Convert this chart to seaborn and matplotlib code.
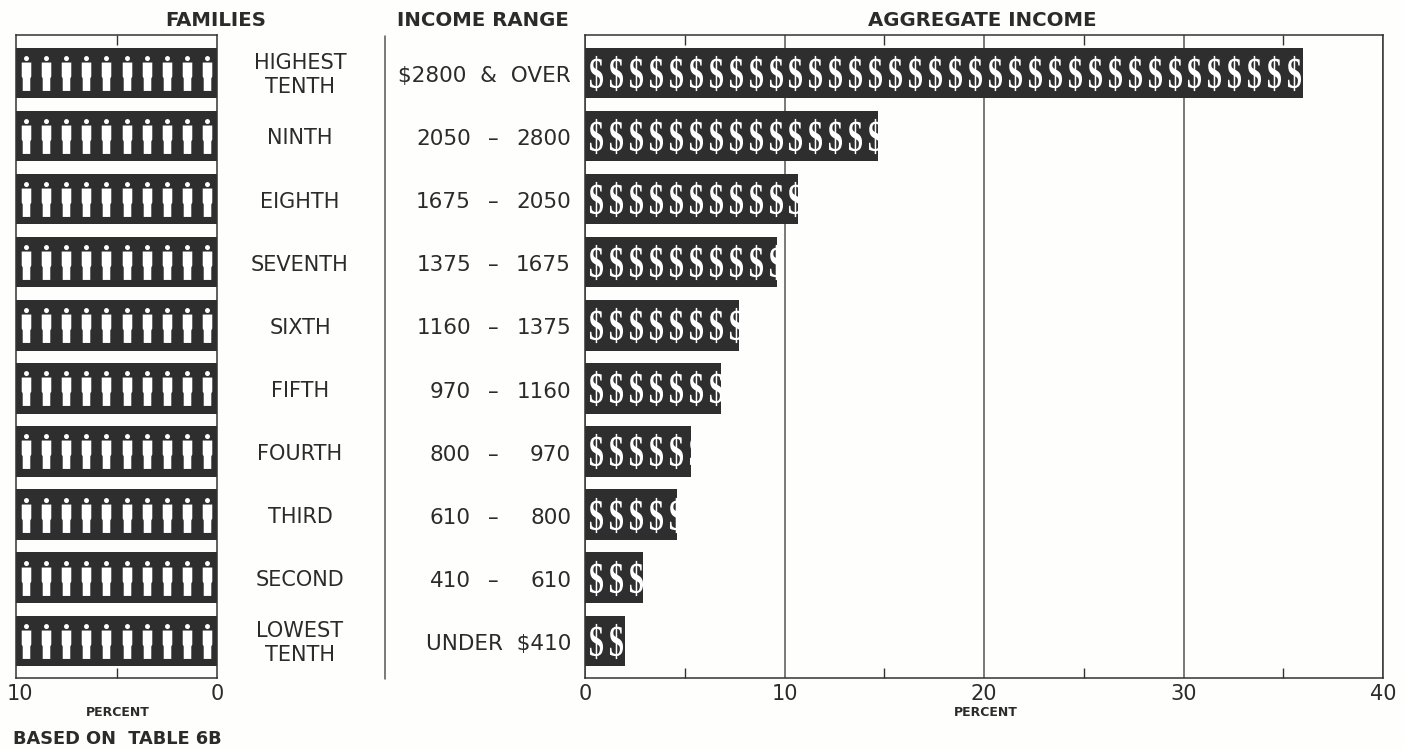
import numpy as np
import pandas as pd
import matplotlib
matplotlib.use("Agg")
import matplotlib.pyplot as plt
from matplotlib.font_manager import FontProperties
from matplotlib.path import Path
from matplotlib.textpath import TextPath
from matplotlib.transforms import Affine2D, ScaledTranslation, blended_transform_factory
import seaborn as sns

# Income tenths of families, highest to lowest
tenth_labels = ["HIGHEST\nTENTH", "NINTH", "EIGHTH", "SEVENTH", "SIXTH",
                "FIFTH", "FOURTH", "THIRD", "SECOND", "LOWEST\nTENTH"]
range_low = ["", "2050", "1675", "1375", "1160", "970", "800", "610", "410", ""]
range_high = ["", "2800", "2050", "1675", "1375", "1160", "970", "800", "610", ""]
range_whole = ["$2800  &  OVER", "", "", "", "", "", "", "", "", "UNDER  $410"]
family_share = [10, 10, 10, 10, 10, 10, 10, 10, 10, 10]
income_share = [36.0, 14.7, 10.7, 9.6, 7.7, 6.8, 5.3, 4.6, 2.9, 2.0]

INK = "#2e2e2e"
TEXT = "#2b2b2b"
PAPER = "#fefefc"
W, H = 1404, 749

sns.set_theme(style="white")
plt.rcParams["font.family"] = ["DejaVu Sans"]
plt.rcParams["axes.edgecolor"] = "#333333"
plt.rcParams["axes.linewidth"] = 1.1

fig = plt.figure(figsize=(W / 100, H / 100), dpi=100, facecolor=PAPER)


def panel(x0, x1, y0=35, y1=678):
    return fig.add_axes([x0 / W, 1 - y1 / H, (x1 - x0) / W, (y1 - y0) / H], facecolor=PAPER)


def dollar_marker():
    # Tall, narrow dollar sign: about 13 units wide for 35 high
    glyph = TextPath((0, 0), "$", size=1,
                     prop=FontProperties(family="Liberation Serif", weight="bold"))
    box = glyph.get_extents()
    centred = Affine2D().translate(-(box.x0 + box.x1) / 2, -(box.y0 + box.y1) / 2)
    squeeze = (13 / 35) * box.height / box.width
    return glyph.transformed(centred + Affine2D().scale(squeeze, 1.0))


def person_marker():
    # Figure drawn in a 35-unit-high box centred on the origin
    body = [(-4.8, 11), (4.8, 11), (4.8, -3), (3.8, -5), (3.8, -17.5),
            (-3.8, -17.5), (-3.8, -5), (-4.8, -3), (-4.8, 11)]
    head = Path.unit_circle().transformed(Affine2D().scale(2.5).translate(0, 15))
    return Path.make_compound_path(Path(body, closed=True), head)


def fill_bars(ax, marker, size, offset):
    """Repeat a white pictogram once per percentage point, clipped to each bar."""
    for row, patch in enumerate(ax.patches):
        count = int(np.ceil(patch.get_width() - offset + 0.5))
        xs = np.arange(count) + offset
        dots = ax.scatter(xs, np.full(count, row), marker=marker, s=size,
                          color="white", linewidths=0, zorder=4)
        dots.set_clip_path(patch)


def style_axis(ax, major, minor, xlim):
    ax.set_xlim(*xlim)
    ax.set_ylim(9.59, -0.6)
    ax.set_xticks(major)
    ax.set_xticks(minor, minor=True)
    ax.set_yticks([])
    ax.set_xlabel("")
    ax.set_ylabel("")
    ax.tick_params(axis="x", which="major", length=0, pad=4, labelsize=15, labelcolor=TEXT)
    ax.tick_params(axis="x", which="minor", length=7, width=1, color="#333333",
                   direction="in", top=True, bottom=True)
    for side in ax.spines.values():
        side.set_visible(True)


frame = pd.DataFrame({"tenth": tenth_labels, "families": family_share, "income": income_share})

# Left panel: every tenth holds ten percent of families
ax_fam = panel(16, 217)
sns.barplot(data=frame, x="families", y="tenth", orient="h", color=INK, saturation=1,
            width=0.8, ax=ax_fam, linewidth=0)
style_axis(ax_fam, [0, 10], [5], (10, 0))
ax_fam.set_xticklabels(["0", "10"])
# Nudge the "10" inward so it stays clear of the page edge
tick_10 = ax_fam.get_xticklabels()[1]
tick_10.set_transform(tick_10.get_transform() + ScaledTranslation(4 / 100, 0, fig.dpi_scale_trans))
fill_bars(ax_fam, person_marker(), 630, 0.5)

# Right panel: share of aggregate income per tenth
ax_inc = panel(585, 1383)
ax_inc.set_axisbelow(True)
sns.barplot(data=frame, x="income", y="tenth", orient="h", color=INK, saturation=1,
            width=0.8, ax=ax_inc, linewidth=0)
style_axis(ax_inc, [0, 10, 20, 30, 40], [5, 15, 25, 35], (0, 40))
ax_inc.xaxis.grid(True, which="major", color="#555555", linewidth=1.1)
fill_bars(ax_inc, dollar_marker(), 640, 0.55)

# Row labels sit between the panels, aligned to the bar rows
row_tf = blended_transform_factory(fig.transFigure, ax_inc.transData)
range_style = dict(transform=row_tf, va="center", fontsize=15.5, color=TEXT)
for row, label in enumerate(tenth_labels):
    fig.text(300 / W, row + 0.04, label, transform=row_tf, ha="center", va="center",
             fontsize=15, color=TEXT, linespacing=1.25)
    if range_whole[row]:
        fig.text(571 / W, row + 0.05, range_whole[row], ha="right", **range_style)
    else:
        fig.text(471 / W, row + 0.05, range_low[row], ha="right", **range_style)
        fig.text(493 / W, row + 0.05, "\u2013", ha="center", **range_style)
        fig.text(571 / W, row + 0.05, range_high[row], ha="right", **range_style)

# Divider between the family and income columns
fig.add_artist(plt.Line2D([385 / W, 385 / W], [1 - 36 / H, 1 - 679 / H], color="#555555", linewidth=1.1))

# Column headings and footers
for x, title in [(216, "FAMILIES"), (483, "INCOME RANGE"), (982, "AGGREGATE INCOME")]:
    fig.text(x / W, 1 - 20 / H, title, ha="center", va="center", fontsize=14.2,
             fontweight="bold", color=TEXT)
for x in (118, 986):
    fig.text(x / W, 1 - 712 / H, "PERCENT", ha="center", va="center", fontsize=9,
             fontweight="bold", color=TEXT)
fig.text(13 / W, 1 - 739 / H, "BASED ON  TABLE 6B", ha="left", va="center", fontsize=12.8,
         fontweight="bold", color=TEXT)

fig.savefig("out.png", dpi=100, facecolor=PAPER)
